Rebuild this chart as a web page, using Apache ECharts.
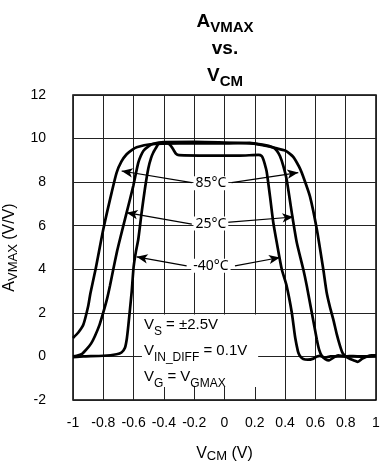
<!DOCTYPE html>
<html>
<head>
<meta charset="utf-8">
<script src="https://cdn.jsdelivr.net/npm/echarts@6/dist/echarts.min.js"></script>
<style>
  html, body { margin: 0; padding: 0; background: #fff; }
  #chart { width: 380px; height: 465px; }
</style>
</head>
<body>
<div id="chart"></div>
<script>
// Maximum gain versus common-mode voltage at three temperatures
const xTicks = ['-1', '-0.8', '-0.6', '-0.4', '-0.2', '0', '0.2', '0.4', '0.6', '0.8', '1'];
const yTicks = ['-2', '0', '2', '4', '6', '8', '10', '12'];

const curve85 = [
  [-1, 0.85], [-0.965, 1.1], [-0.932, 1.45], [-0.9, 2.3], [-0.885, 2.9], [-0.851, 4.0],
  [-0.8, 5.84], [-0.745, 7.52], [-0.712, 8.44], [-0.68, 8.95], [-0.646, 9.28], [-0.61, 9.48],
  [-0.58, 9.6], [-0.49, 9.74], [-0.3, 9.78], [0, 9.78], [0.168, 9.8], [0.26, 9.68],
  [0.345, 9.55], [0.4, 9.45], [0.432, 9.3], [0.455, 9.15], [0.477, 8.9], [0.5, 8.6],
  [0.52, 8.25], [0.564, 7.35], [0.609, 5.85], [0.652, 4.0], [0.674, 2.95], [0.695, 2.3],
  [0.718, 1.7], [0.74, 1.05], [0.762, 0.5], [0.78, 0.15], [0.8, 0.0], [0.83, -0.12],
  [0.86, -0.2], [0.88, -0.25], [0.91, -0.1], [0.94, 0.0], [0.97, 0.05], [1, 0.05]
];

const curve25 = [
  [-1, 0.0], [-0.976, 0.03], [-0.94, 0.12], [-0.91, 0.33], [-0.88, 0.6], [-0.855, 0.94],
  [-0.825, 1.45], [-0.8, 2.02], [-0.775, 2.65], [-0.756, 3.24], [-0.734, 4.0], [-0.71, 4.8],
  [-0.69, 5.38], [-0.646, 6.6], [-0.602, 7.83], [-0.585, 8.4], [-0.569, 8.9], [-0.553, 9.2],
  [-0.536, 9.43], [-0.5, 9.65], [-0.47, 9.76], [-0.4, 9.84], [-0.2, 9.85], [0, 9.82],
  [0.168, 9.78], [0.25, 9.72], [0.322, 9.59], [0.345, 9.45], [0.366, 9.2], [0.388, 8.75],
  [0.41, 8.13], [0.444, 6.6], [0.477, 5.23], [0.52, 4.0], [0.543, 3.24], [0.576, 2.02],
  [0.609, 0.79], [0.625, 0.3], [0.642, 0.03], [0.665, -0.12], [0.69, -0.18], [0.72, -0.05],
  [0.75, 0.05], [0.8, 0.0], [0.85, 0.02], [0.9, -0.02], [1, 0.02]
];

const curveM40 = [
  [-1, -0.03], [-0.932, 0.0], [-0.8, 0.03], [-0.712, 0.1], [-0.68, 0.18], [-0.657, 0.4],
  [-0.645, 0.8], [-0.635, 1.4], [-0.613, 2.94], [-0.6, 4.1], [-0.585, 4.8], [-0.569, 5.38],
  [-0.547, 6.6], [-0.525, 7.71], [-0.503, 8.63], [-0.485, 9.1], [-0.47, 9.36], [-0.45, 9.6],
  [-0.437, 9.74], [-0.41, 9.82], [-0.385, 9.83], [-0.36, 9.72], [-0.34, 9.52], [-0.32, 9.3],
  [-0.3, 9.24], [-0.1, 9.22], [0.1, 9.22], [0.224, 9.25], [0.245, 9.2], [0.256, 9.05],
  [0.267, 8.8], [0.278, 8.5], [0.3, 7.37], [0.322, 6.15], [0.345, 5.23], [0.378, 4.0],
  [0.41, 3.24], [0.444, 2.02], [0.465, 0.94], [0.478, 0.45], [0.487, 0.18], [0.5, 0.0],
  [0.52, -0.12], [0.55, -0.15], [0.586, -0.1], [0.61, 0.0], [0.63, 0.03], [0.66, -0.05],
  [0.7, 0.0], [1, 0.0]
];

// Temperature callouts: label anchor and the arrows pointing to each curve
const tempNames = ['85°C', '25°C', '-40°C'];
const tempLabelPos = [[-0.09, 7.95], [-0.09, 6.1], [-0.09, 4.16]];
const tempArrows = [
  [[[-0.216, 7.98], [-0.679, 8.51]], [[0.047, 7.98], [0.487, 8.44]]],
  [[[-0.216, 6.07], [-0.646, 6.6]], [[0.015, 6.15], [0.454, 6.4]]],
  [[[-0.25, 4.16], [-0.58, 4.57]], [[0.069, 4.16], [0.366, 4.54]]]
];

// Test-condition box corners (data units)
const condBox = [[-0.545, 1.93], [0.222, -1.4]];

const ARIAL = 'Arial, "Liberation Sans", sans-serif';

function curveSeries(name, data) {
  return {
    name: name,
    type: 'line',
    data: data,
    showSymbol: false,
    smooth: 0.2,
    lineStyle: { color: '#000', width: 2.7 },
    z: 3,
    silent: true
  };
}

const arrowLines = [];
tempArrows.forEach(pair => pair.forEach(seg => {
  arrowLines.push([{ coord: seg[0] }, { coord: seg[1] }]);
}));

const nameRich = {
  m: { fontFamily: ARIAL, fontSize: 16, color: '#000', lineHeight: 19 },
  s: { fontFamily: ARIAL, fontSize: 13, color: '#000', lineHeight: 15, verticalAlign: 'bottom' }
};

const option = {
  animation: false,
  backgroundColor: '#fff',
  grid: {
    left: 73, right: 4, top: 95, bottom: 65,
    containLabel: false, outerBoundsMode: 'none',
    show: true, borderColor: '#000', borderWidth: 1.5, backgroundColor: 'transparent'
  },
  xAxis: {
    type: 'value', min: -1, max: 1, interval: 0.2,
    axisLine: { show: false }, axisTick: { show: false },
    splitLine: { show: true, lineStyle: { color: '#222', width: 1 } },
    axisLabel: {
      margin: 16, color: '#000', fontFamily: ARIAL, fontSize: 14,
      formatter: v => xTicks[Math.round((v + 1) / 0.2)]
    },
    name: '{m|V}{s|CM}{m| (V)}',
    nameLocation: 'middle', nameGap: 44,
    nameTextStyle: { rich: nameRich }
  },
  yAxis: {
    type: 'value', min: -2, max: 12, interval: 2,
    axisLine: { show: false }, axisTick: { show: false },
    splitLine: { show: true, lineStyle: { color: '#222', width: 1 } },
    axisLabel: {
      margin: 27, color: '#000', fontFamily: ARIAL, fontSize: 14,
      formatter: v => yTicks[Math.round((v + 2) / 2)]
    },
    name: '{m|A}{s|VMAX}{m| (V/V)}',
    nameLocation: 'middle', nameGap: 50, nameRotate: 90,
    nameTextStyle: { rich: nameRich }
  },
  graphic: [{
    type: 'text',
    x: 225, y: 8,
    style: {
      text: '{m|A}{s|VMAX}\n{m|vs.}\n{m|V}{s|CM}',
      align: 'center', verticalAlign: 'top',
      rich: {
        m: { fontFamily: ARIAL, fontSize: 19, fontWeight: 'bold', fill: '#000', lineHeight: 27 },
        s: { fontFamily: ARIAL, fontSize: 15, fontWeight: 'bold', fill: '#000', lineHeight: 22, verticalAlign: 'bottom' }
      }
    }
  }],
  series: [
    curveSeries('85°C', curve85),
    curveSeries('25°C', curve25),
    curveSeries('-40°C', curveM40),
    {
      name: 'conditions',
      type: 'line',
      data: [],
      silent: true,
      z: 5,
      markArea: {
        silent: true,
        itemStyle: { color: '#ffffff', opacity: 1, borderWidth: 0 },
        label: {
          show: true,
          position: [2, -3],
          formatter: '{m|V}{s|S}{m| = ±2.5V}\n{m|V}{s|IN_DIFF}{m| = 0.1V}\n{m|V}{s|G}{m| = V}{s|GMAX}',
          rich: {
            m: { fontFamily: ARIAL, fontSize: 15, color: '#000', lineHeight: 26 },
            s: { fontFamily: ARIAL, fontSize: 12, color: '#000', lineHeight: 18, verticalAlign: 'bottom' }
          }
        },
        data: [[{ coord: condBox[0] }, { coord: condBox[1] }]]
      }
    },
    {
      name: 'callouts',
      type: 'line',
      data: [],
      silent: true,
      z: 4,
      markLine: {
        silent: true,
        symbol: ['none', 'arrow'],
        symbolSize: [7, 11],
        label: { show: false },
        lineStyle: { color: '#000', width: 1.2, type: 'solid' },
        data: arrowLines
      },
      markPoint: {
        silent: true,
        symbol: 'rect',
        symbolSize: 1,
        itemStyle: { color: 'rgba(0,0,0,0)' },
        label: {
          show: true,
          position: 'inside',
          color: '#000',
          fontFamily: '"Noto Sans", "Open Sans", sans-serif',
          fontSize: 14,
          backgroundColor: '#fff',
          padding: [0, 2],
          formatter: p => p.name
        },
        data: tempNames.map((n, i) => ({ name: n, coord: tempLabelPos[i] }))
      }
    }
  ]
};

const chart = echarts.init(document.getElementById('chart'), null, { renderer: 'canvas' });
chart.setOption(option);
</script>
</body>
</html>
